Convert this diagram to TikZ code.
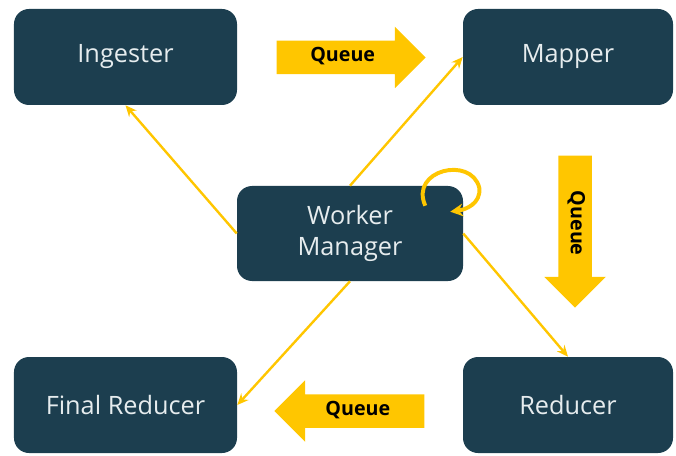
\documentclass[tikz,border=0pt]{standalone}
\usepackage{fontspec}
\setmainfont{Open Sans}
\usepackage{tikz}
\usetikzlibrary{arrows.meta, positioning, shapes.arrows}

\definecolor{boxblue}{HTML}{1C3E4F}
\definecolor{queueyellow}{HTML}{FFC600}
\definecolor{boxtext}{HTML}{E6ECEE}

\tikzset{
    box/.style={draw=none, fill=boxblue, rectangle, rounded corners=0.375cm, text centered, text=boxtext,
        minimum height=2.4cm, minimum width=5.6cm, align=center, font=\fontsize{18}{22}\selectfont},
    queue/.style={single arrow, fill=queueyellow, draw=none, text=black, font=\fontsize{14}{16}\selectfont\bfseries,
        text height=8pt, text depth=2pt, inner ysep=0.236cm, single arrow head extend=0.35cm, anchor=tail},
    link/.style={draw=queueyellow, line width=1.7pt, -{Stealth[length=8pt, width=7pt]}}
}

\begin{document}
\begin{tikzpicture}[node distance=4.4cm]

    \useasboundingbox (-8.75,5.8375) rectangle (8.15,-5.5375);

    % Worker manager in the middle, the four stages round it
    \node (manager) [box, minimum width=5.65cm, minimum height=2.375cm] {Worker\\Manager};
    \node (ingester) [box, above of=manager, xshift=-5.6125cm, yshift=0.0125cm, minimum width=5.575cm] {Ingester};
    \node (mapper) [box, above of=manager, xshift=5.45cm, yshift=0.0125cm, minimum width=5.25cm] {Mapper};
    \node (reducer) [box, below of=manager, xshift=5.45cm, yshift=0.1125cm, minimum width=5.25cm] {Reducer};
    \node (finalreducer) [box, below of=manager, xshift=-5.6125cm, yshift=0.1125cm, minimum width=5.575cm] {Final Reducer};

    % Queue arrows between the stages
    \node (queueTop) [queue, minimum height=3.725cm, right=0.975cm of ingester.east, anchor=tail, yshift=-0.0125cm] {Queue};
    \node (queueRight) [queue, minimum height=3.8cm, rotate=-90, below=1.25cm of mapper.south, anchor=tail, yshift=0.175cm] {Queue};
    \node (queueBottom) [queue, minimum height=3.75cm, shape border rotate=180, left=0.95cm of reducer.west, anchor=tail, yshift=-0.15cm] {Queue};

    % Links from the worker manager
    \draw[link] (manager.west) -- (ingester.south);
    \draw[link] (manager.north) -- (mapper.west);
    \draw[link] (manager.east) -- (reducer.north);
    \draw[link] (manager.south) -- (finalreducer.east);

    % Self loop
    \draw[draw=queueyellow, line width=2.8pt, -{Stealth[length=9pt, width=9pt]}]
        ([shift={(-0.95,-0.5)}]manager.north east) .. controls ([shift={(-1.35,0.4)}]manager.north east) and ([shift={(0.2,0.75)}]manager.north east) .. ([shift={(0.4,-0.05)}]manager.north east)
        .. controls ([shift={(0.45,-0.45)}]manager.north east) and ([shift={(0.05,-0.6)}]manager.north east) .. ([shift={(-0.325,-0.65)}]manager.north east);

\end{tikzpicture}
\end{document}
